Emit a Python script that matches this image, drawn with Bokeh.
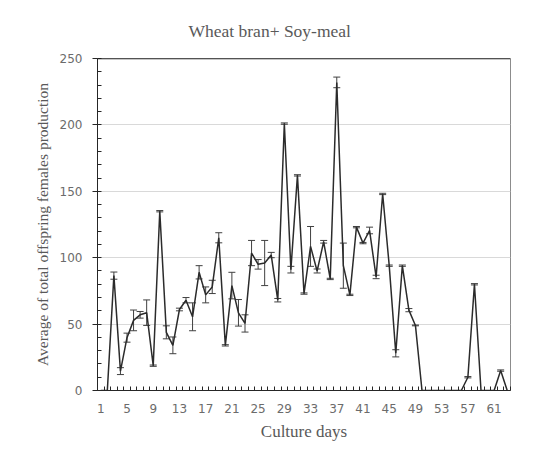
from bokeh.plotting import figure
from bokeh.models import FixedTicker, Whisker, TeeHead, ColumnDataSource, Span, Title, Range1d
from bokeh.embed import file_html
from bokeh.resources import INLINE

# ---- data ----
days = list(range(1, 64))
mean_vals = [0, 0, 86.5, 14.6, 39.8, 52.8, 57, 58.6, 18.7, 135,
             43.8, 34, 61, 68, 55.5, 89, 72, 78, 115, 34,
             79, 58.5, 50.5, 103.5, 95, 96, 102, 68, 201, 91,
             162, 73, 108.5, 90, 112, 84, 232, 94, 72, 123,
             111, 120.5, 85.5, 148, 94, 28, 94, 60.5, 49, 0,
             0, 0, 0, 0, 0, 0, 10, 80, 0, 0,
             0, 15, 0]
err_vals = [0, 0, 2.7, 2.6, 3.4, 7.8, 2.5, 9.6, 0.5, 0.5,
            4.9, 6.3, 1, 2, 10.5, 5, 6, 5, 3.8, 0.5,
            10, 10, 6.5, 9.5, 3.6, 17, 2, 1.3, 0.5, 2.5,
            0.5, 0.5, 15, 1.5, 1, 0.5, 4, 17, 0.5, 0.5,
            0.5, 2.5, 1.3, 0.5, 0.5, 2.7, 0.5, 1.2, 0.3, 0,
            0, 0, 0, 0, 0, 0, 0.5, 0.5, 0, 0,
            0, 0.5, 0]
x_tick_labels = list(range(1, 62, 4))
y_ticks = [0, 50, 100, 150, 200, 250]
title_text = "Wheat bran+ Soy-meal"
x_title = "Culture days"
y_title = "Average of total offspring females production"

serif = "Liberation Serif"
sans = "DejaVu Sans"

p = figure(width=518, height=450, output_backend="svg", toolbar_location=None,
           x_range=Range1d(0.5, 63.5), y_range=Range1d(0, 250),
           min_border_left=97, min_border_right=8, min_border_top=58, min_border_bottom=60)
p.title = Title(text=title_text, align="left", offset=91, text_font=serif,
                text_font_size="17.5px", text_font_style="normal", text_color="#595959",
                standoff=36)
p.outline_line_color = "#8c8c8c"
p.outline_line_width = 1
p.background_fill_color = "white"
p.border_fill_color = "white"

# axes
xa = p.xaxis[0]
xa.ticker = FixedTicker(ticks=x_tick_labels, minor_ticks=[d - 0.5 for d in range(1, 65)])
xa.major_tick_in = 0
xa.major_tick_out = 0
xa.minor_tick_in = 4
xa.minor_tick_out = 0
xa.minor_tick_line_color = "#262626"
xa.axis_line_color = "#262626"
xa.major_label_text_font = sans
xa.major_label_text_font_size = "12px"
xa.major_label_text_color = "#6b6b6b"
xa.major_label_standoff = 13
xa.axis_label = x_title
xa.axis_label_text_font = serif
xa.axis_label_text_font_size = "17px"
xa.axis_label_text_font_style = "normal"
xa.axis_label_text_color = "#595959"
xa.axis_label_standoff = 6

ya = p.yaxis[0]
ya.ticker = FixedTicker(ticks=y_ticks, minor_ticks=list(range(0, 251, 10)))
ya.major_tick_in = 0
ya.major_tick_out = 5
ya.minor_tick_in = 4
ya.minor_tick_out = 0
ya.major_tick_line_color = "#262626"
ya.minor_tick_line_color = "#262626"
ya.axis_line_color = "#262626"
ya.major_label_text_font = sans
ya.major_label_text_font_size = "12px"
ya.major_label_text_color = "#6b6b6b"
ya.major_label_standoff = 10
ya.axis_label = y_title
ya.axis_label_text_font = serif
ya.axis_label_text_font_size = "15.5px"
ya.axis_label_text_font_style = "normal"
ya.axis_label_text_color = "#595959"
ya.axis_label_standoff = 6

p.xgrid.grid_line_color = None
p.ygrid.ticker = FixedTicker(ticks=y_ticks)
p.ygrid.grid_line_color = "#d9d9d9"
p.ygrid.grid_line_width = 1

p.add_layout(Span(location=250, dimension="width", line_color="#1a1a1a", line_width=1.5))

# error bars
ex = [d for d, e in zip(days, err_vals) if e > 0]
lo = [m - e for m, e in zip(mean_vals, err_vals) if e > 0]
hi = [m + e for m, e in zip(mean_vals, err_vals) if e > 0]
esrc = ColumnDataSource(dict(x=ex, lower=lo, upper=hi))
w = Whisker(base="x", lower="lower", upper="upper", source=esrc,
            line_color="#404040", line_width=1,
            upper_head=TeeHead(size=7, line_color="#404040", line_width=1),
            lower_head=TeeHead(size=7, line_color="#404040", line_width=1))
p.add_layout(w)

p.line(days, mean_vals, line_color="#2b2b2b", line_width=1.5)

open("out.html", "w").write(file_html(p, INLINE))
